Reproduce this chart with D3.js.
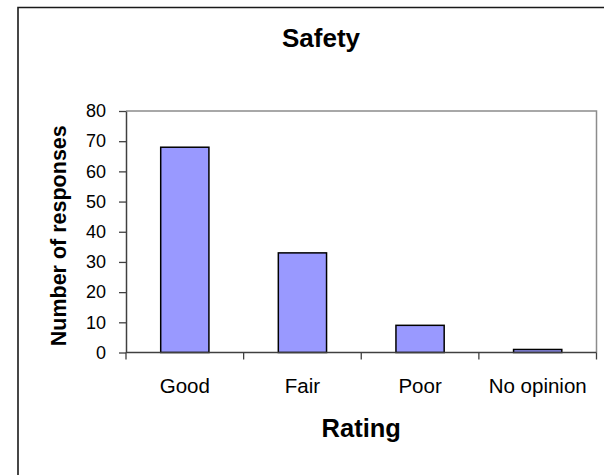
<!DOCTYPE html>
<html lang="en">

<head>
  <meta charset="UTF-8">
  <script src="https://d3js.org/d3.v7.min.js"></script>
  <style>
    body {
      margin: 0;
      background: #fff;
    }

    svg {
      display: block;
      font-family: "Liberation Sans", Arial, sans-serif;
    }

    .bar {
      fill: #9999FF;
      stroke: #000;
      stroke-width: 1.5px;
    }
  </style>
</head>

<body>
  <div id="chart"></div>

  <script>
    // chart data
    const categories = ['Good', 'Fair', 'Poor', 'No opinion'];
    const responses = [68, 33, 9, 1];
    const yTicks = [0, 10, 20, 30, 40, 50, 60, 70, 80];

    const width = 604, height = 475;
    const plot = { left: 126, right: 596.5, top: 111, bottom: 352.5 };

    const svg = d3.select('#chart').append('svg')
      .attr('width', width)
      .attr('height', height);

    // outer chart border (right and bottom edges fall outside the picture)
    svg.append('path')
      .attr('d', `M18,${height + 5} V7.5 H${width + 5}`)
      .attr('fill', 'none')
      .attr('stroke', '#1a1a1a')
      .attr('stroke-width', 1.6);

    const x = d3.scaleBand()
      .domain(categories)
      .range([plot.left, plot.right]);

    const y = d3.scaleLinear()
      .domain([0, 80])
      .range([plot.bottom, plot.top]);

    // plot area border, top and right
    svg.append('path')
      .attr('d', `M${plot.left},${plot.top} H${plot.right} V${plot.bottom}`)
      .attr('fill', 'none')
      .attr('stroke', '#8c8c8c')
      .attr('stroke-width', 1.5);

    // bars
    const barW = x.bandwidth() * 0.41;
    svg.selectAll('rect.bar')
      .data(responses)
      .enter().append('rect')
      .attr('class', 'bar')
      .attr('x', (d, i) => x(categories[i]) + (x.bandwidth() - barW) / 2)
      .attr('y', d => y(d))
      .attr('width', barW)
      .attr('height', d => y(0) - y(d));

    // y axis
    const yAxis = svg.append('g')
      .attr('transform', `translate(${plot.left},0)`)
      .call(d3.axisLeft(y).tickValues(yTicks).tickSize(7).tickPadding(13).tickSizeOuter(0));
    yAxis.select('.domain').attr('stroke', '#404040').attr('stroke-width', 1.5);
    yAxis.selectAll('.tick line').attr('stroke', '#404040').attr('stroke-width', 1.3);
    yAxis.selectAll('.tick text')
      .attr('fill', '#000')
      .style('font-size', '18px');

    // x axis, ticks on category boundaries
    const xAxis = svg.append('g')
      .attr('transform', `translate(0,${plot.bottom})`);
    xAxis.append('line')
      .attr('x1', plot.left).attr('x2', plot.right)
      .attr('stroke', '#404040').attr('stroke-width', 1.5);
    xAxis.selectAll('line.tick')
      .data(categories.concat(['end']))
      .enter().append('line')
      .attr('class', 'tick')
      .attr('x1', (d, i) => i < categories.length ? x(d) : plot.right)
      .attr('x2', (d, i) => i < categories.length ? x(d) : plot.right)
      .attr('y1', 0).attr('y2', 7)
      .attr('stroke', '#404040').attr('stroke-width', 1.3);
    xAxis.selectAll('text')
      .data(categories)
      .enter().append('text')
      .attr('x', d => x(d) + x.bandwidth() / 2)
      .attr('y', 40)
      .attr('text-anchor', 'middle')
      .style('font-size', '20.5px')
      .text(d => d);

    // titles
    svg.append('text')
      .attr('x', 321)
      .attr('y', 47)
      .attr('text-anchor', 'middle')
      .style('font-size', '26px')
      .style('font-weight', 'bold')
      .text('Safety');

    svg.append('text')
      .attr('x', (plot.left + plot.right) / 2)
      .attr('y', 437)
      .attr('text-anchor', 'middle')
      .style('font-size', '25.5px')
      .style('font-weight', 'bold')
      .text('Rating');

    svg.append('text')
      .attr('transform', `translate(66,${(plot.top + plot.bottom) / 2 + 4}) rotate(-90)`)
      .attr('text-anchor', 'middle')
      .style('font-size', '21.5px')
      .style('font-weight', 'bold')
      .text('Number of responses');
  </script>

</body>

</html>
